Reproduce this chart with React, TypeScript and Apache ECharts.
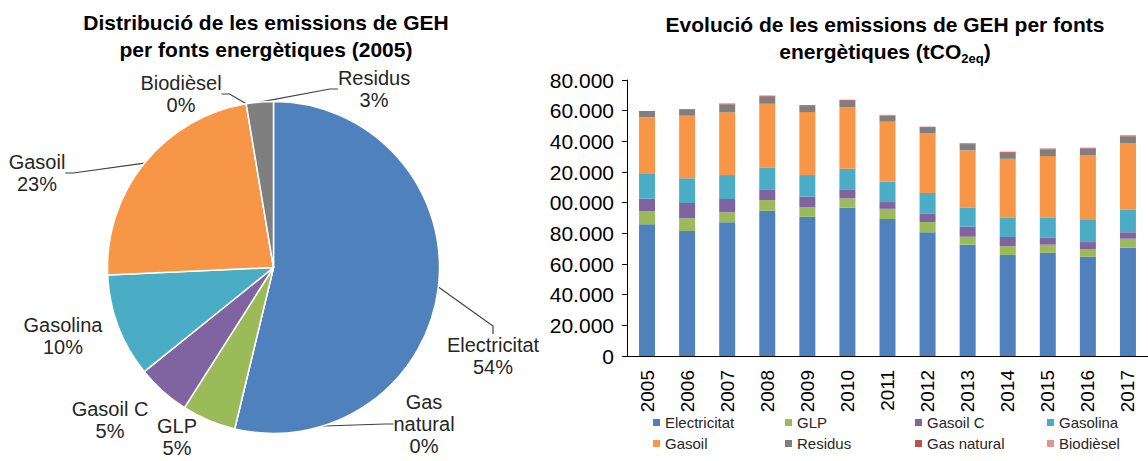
import React, { useEffect, useRef } from 'react';
import * as echarts from 'echarts';

const FONT = '"Liberation Sans", Arial, Helvetica, sans-serif';

const years = ['2005', '2006', '2007', '2008', '2009', '2010', '2011', '2012', '2013', '2014', '2015', '2016', '2017'];
const electricitat = [85900, 81500, 87200, 94700, 90800, 96700, 89300, 80700, 72600, 65900, 67300, 64700, 70600];
const glp = [8400, 8300, 6500, 7000, 6300, 6100, 6700, 6700, 5200, 5800, 5300, 5100, 5900];
const gasoilC = [8300, 10000, 8700, 7000, 6800, 5900, 4400, 5600, 6500, 5900, 4500, 4500, 4200];
const gasolina = [16100, 16100, 15600, 14300, 14100, 13400, 13200, 13300, 12600, 12800, 13300, 14400, 14700];
const gasoil = [36900, 40800, 40900, 41500, 41100, 40000, 39200, 38900, 37200, 38200, 40000, 42200, 43300];
const residus = [4200, 4300, 5200, 4600, 3900, 4300, 3900, 3600, 4100, 3900, 4400, 4300, 4500];
const gasNatural = [0, 0, 500, 700, 600, 600, 300, 600, 500, 600, 400, 400, 600];
const biodiesel = [0, 0, 100, 0, 100, 100, 300, 200, 200, 200, 300, 300, 300];

const yTickLabels = ['0', '20.000', '40.000', '60.000', '80.000', '00.000', '20.000', '40.000', '60.000', '80.000'];

const seriesDefs = [
  { name: 'Electricitat', data: electricitat, color: '#4F81BD' },
  { name: 'GLP', data: glp, color: '#9BBB59' },
  { name: 'Gasoil C', data: gasoilC, color: '#8064A2' },
  { name: 'Gasolina', data: gasolina, color: '#4BACC6' },
  { name: 'Gasoil', data: gasoil, color: '#F79646' },
  { name: 'Residus', data: residus, color: '#7F7F7F' },
  { name: 'Gas natural', data: gasNatural, color: '#C0504D' },
  { name: 'Biodièsel', data: biodiesel, color: '#D99694' },
];

const pieOrder = ['Electricitat', 'Gas natural', 'GLP', 'Gasoil C', 'Gasolina', 'Gasoil', 'Biodièsel', 'Residus'];
const pieYearIndex = 0;

// label layout (centre of each label block)
const pieLabelPos: Record<string, [number, number]> = {
  'Electricitat': [493, 356],
  'Gas natural': [424, 424],
  'GLP': [177, 437],
  'Gasoil C': [110, 420],
  'Gasolina': [63, 336],
  'Gasoil': [37, 173],
  'Biodièsel': [181, 94],
  'Residus': [374, 89],
};
const noLeader = ['GLP', 'Gasoil C', 'Gasolina'];

const legendCols = [['Electricitat', 'Gasoil'], ['GLP', 'Residus'], ['Gasoil C', 'Gas natural'], ['Gasolina', 'Biodièsel']];
const legendLefts = [653, 785, 915, 1047];

export default function App() {
  const ref = useRef<HTMLDivElement>(null);
  useEffect(() => {
    if (!ref.current) return;
    const chart = echarts.init(ref.current, null, { renderer: 'svg' });

    const pieData = pieOrder.map((n) => {
      const def = seriesDefs.find((s) => s.name === n)!;
      return {
        name: n,
        value: def.data[pieYearIndex],
        itemStyle: { color: def.color },
        labelLine: { show: noLeader.indexOf(n) < 0 },
      };
    });

    const option: any = {
      animation: false,
      textStyle: { fontFamily: FONT },
      graphic: [
        {
          type: 'text',
          x: 266,
          y: 9,
          style: {
            text: 'Distribució de les emissions de GEH\nper fonts energètiques (2005)',
            align: 'center',
            verticalAlign: 'top',
            fontSize: 21,
            fontWeight: 'bold',
            fontFamily: FONT,
            lineHeight: 27,
            fill: '#000',
          },
        },
        {
          type: 'text',
          x: 885,
          y: 11,
          style: {
            text: '{a|Evolució de les emissions de GEH per fonts}\n{a|energètiques (tCO}{b|2eq}{a|)}',
            align: 'center',
            verticalAlign: 'top',
            fill: '#000',
            rich: {
              a: { fontSize: 21, fontWeight: 'bold', fontFamily: FONT, lineHeight: 27, fill: '#000' },
              b: { fontSize: 13, fontWeight: 'bold', fontFamily: FONT, lineHeight: 11, verticalAlign: 'bottom', fill: '#000' },
            },
          },
        },
      ],
      grid: { left: 627, top: 80, width: 524, height: 276 },
      xAxis: {
        type: 'category',
        data: years,
        axisLine: { lineStyle: { color: '#000', width: 1 } },
        axisTick: { length: 5, lineStyle: { color: '#000' } },
        axisLabel: { rotate: 90, fontSize: 19, color: '#000', margin: 14, fontFamily: FONT },
      },
      yAxis: {
        type: 'value',
        min: 0,
        max: 180000,
        interval: 20000,
        splitLine: { show: false },
        axisLine: { show: true, lineStyle: { color: '#000', width: 1 } },
        axisTick: { show: true, length: 5, lineStyle: { color: '#000' } },
        axisLabel: {
          fontSize: 21,
          color: '#000',
          margin: 13,
          fontFamily: FONT,
          formatter: (v: number, i: number) => yTickLabels[i] ?? '',
        },
      },
      legend: legendCols.map((d, i) => ({
        data: d,
        orient: 'vertical',
        left: legendLefts[i],
        top: 415,
        itemWidth: 7,
        itemHeight: 7,
        itemGap: 6,
        padding: 0,
        icon: 'rect',
        selectedMode: false,
        textStyle: { fontSize: 15, color: '#262626', lineHeight: 15, fontFamily: FONT },
      })),
      series: [
        ...seriesDefs.map((s) => ({
          type: 'bar',
          name: s.name,
          stack: 'total',
          barWidth: 16,
          data: s.data,
          itemStyle: { color: s.color },
        })),
        {
          type: 'pie',
          name: 'pie2005',
          center: [273.5, 267.5],
          radius: 166,
          startAngle: 90,
          clockwise: true,
          avoidLabelOverlap: false,
          itemStyle: { borderColor: '#fff', borderWidth: 1.5 },
          label: {
            show: true,
            position: 'outside',
            fontSize: 20,
            lineHeight: 22,
            color: '#262626',
            fontFamily: FONT,
            formatter: (p: any) => {
              const nm = p.name === 'Gas natural' ? 'Gas\nnatural' : p.name;
              return nm + '\n' + Math.round(p.percent) + '%';
            },
          },
          labelLine: { show: true, length: 10, length2: 8, lineStyle: { color: '#404040', width: 1.2 } },
          labelLayout: (params: any) => {
            const name = pieOrder[params.dataIndex];
            const pos = pieLabelPos[name];
            return { x: pos[0], y: pos[1], align: 'center', verticalAlign: 'middle' };
          },
          data: pieData,
        },
      ],
    };
    chart.setOption(option);
    return () => chart.dispose();
  }, []);
  return <div ref={ref} style={{ position: 'absolute', left: 0, top: 0, width: 1148, height: 461, background: '#fff' }} />;
}
